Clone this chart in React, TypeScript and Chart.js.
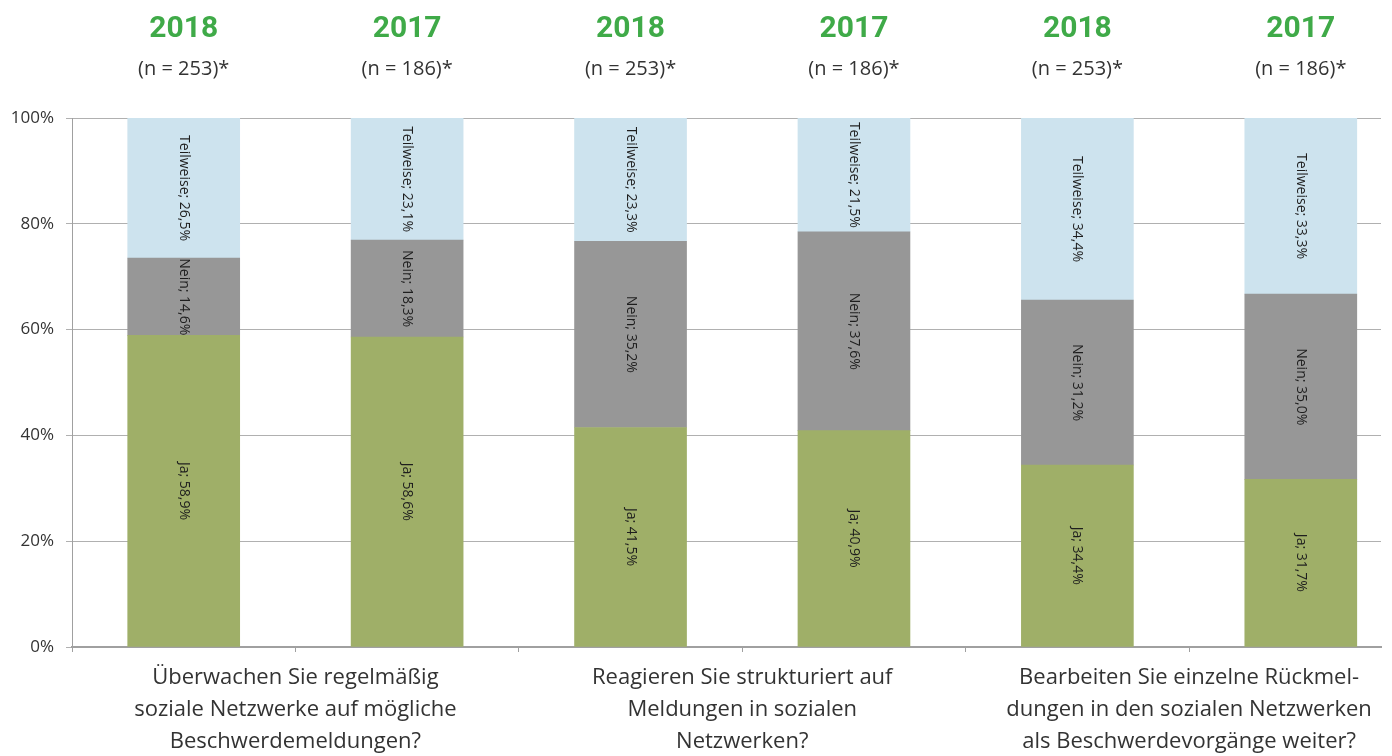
import React, { useEffect, useRef } from 'react';
import { Chart, registerables } from 'chart.js';

Chart.register(...registerables);

const years = ['2018', '2017', '2018', '2017', '2018', '2017'];
const sampleSizes = ['(n = 253)*', '(n = 186)*', '(n = 253)*', '(n = 186)*', '(n = 253)*', '(n = 186)*'];
const questions = [
  ['Überwachen Sie regelmäßig', 'soziale Netzwerke auf mögliche', 'Beschwerdemeldungen?'],
  ['Reagieren Sie strukturiert auf', 'Meldungen in sozialen', 'Netzwerken?'],
  ['Bearbeiten Sie einzelne Rückmel-', 'dungen in den sozialen Netzwerken', 'als Beschwerdevorgänge weiter?'],
];
const jaValues = [58.9, 58.6, 41.5, 40.9, 34.4, 31.7];
const neinValues = [14.6, 18.3, 35.2, 37.6, 31.2, 35.0];
const teilweiseValues = [26.5, 23.1, 23.3, 21.5, 34.4, 33.3];
const seriesNames = ['Ja', 'Nein', 'Teilweise'];
const seriesColors = ['#9faf68', '#979797', '#cde3ee'];
const categoryBoundaries = [-0.5, 0.5, 1.5, 2.5, 3.5, 4.5];
const yTickValues = [0, 20, 40, 60, 80, 100];

const TEXT = '#333333';
const GREEN = '#3faa48';
const MAIN_FONT = '"Open Sans", "DejaVu Sans", sans-serif';
const YEAR_FONT = 'Roboto, "DejaVu Sans", sans-serif';
const LABEL_FONT = '"Open Sans", "DejaVu Sans", sans-serif';

const fmt = (v: number) => v.toFixed(1).replace('.', ',') + '%';

const textPlugin = {
  id: 'textPlugin',
  afterDatasetsDraw(chart: any) {
    const ctx = chart.ctx;
    ctx.save();
    ctx.fillStyle = '#1e1e1e';
    ctx.font = `14px ${LABEL_FONT}`;
    ctx.textAlign = 'center';
    ctx.textBaseline = 'middle';
    chart.data.datasets.forEach((ds: any, di: number) => {
      const meta = chart.getDatasetMeta(di);
      meta.data.forEach((bar: any, i: number) => {
        const { x, y, base } = bar.getProps(['x', 'y', 'base'], true);
        const cy = (y + base) / 2;
        ctx.save();
        ctx.translate(x, cy);
        ctx.rotate(Math.PI / 2);
        ctx.fillText(`${ds.label}; ${fmt(ds.data[i].y)}`, 0, 0);
        ctx.restore();
      });
    });
    ctx.restore();
  },
  afterDraw(chart: any) {
    const ctx = chart.ctx;
    const xs = chart.scales.x;
    ctx.save();
    ctx.textAlign = 'center';
    ctx.textBaseline = 'middle';
    years.forEach((yr, i) => {
      const px = xs.getPixelForValue(i);
      ctx.fillStyle = GREEN;
      ctx.font = `bold 30px ${YEAR_FONT}`;
      ctx.fillText(yr, px, 29);
      ctx.fillStyle = TEXT;
      ctx.font = `20px ${MAIN_FONT}`;
      ctx.fillText(sampleSizes[i], px, 69);
    });
    ctx.font = `22px ${MAIN_FONT}`;
    ctx.fillStyle = TEXT;
    questions.forEach((lines, g) => {
      const px = xs.getPixelForValue(g * 2 + 0.5);
      lines.forEach((line, li) => {
        ctx.fillText(line, px, 678 + li * 32);
      });
    });
    ctx.restore();
  },
};

export default function App() {
  const ref = useRef<HTMLCanvasElement>(null);
  useEffect(() => {
    if (!ref.current) return;
    const all = [jaValues, neinValues, teilweiseValues];
    const chart = new Chart(ref.current, {
      type: 'bar',
      data: {
        datasets: all.map((vals, si) => ({
          label: seriesNames[si],
          data: vals.map((v, i) => ({ x: i, y: v })),
          backgroundColor: seriesColors[si],
          borderWidth: 0,
          barThickness: 112,
        })),
      },
      options: {
        responsive: false,
        animation: false,
        layout: { padding: { top: 118, right: 11, left: 0, bottom: 0 } },
        plugins: { legend: { display: false }, tooltip: { enabled: false } },
        scales: {
          x: {
            type: 'linear',
            stacked: true,
            offset: false,
            min: -0.5,
            max: 5.359,
            afterBuildTicks: (scale: any) => {
              scale.ticks = categoryBoundaries.map((v) => ({ value: v }));
            },
            afterFit: (scale: any) => {
              scale.height = 109;
            },
            ticks: { callback: () => ' ', font: { size: 1 }, autoSkip: false, maxRotation: 0 },
            grid: { drawOnChartArea: false, offset: false, color: '#a0a0a0', tickLength: 5 },
            border: { color: '#a0a0a0', width: 2 },
          },
          y: {
            stacked: true,
            min: 0,
            max: 100,
            afterBuildTicks: (scale: any) => {
              scale.ticks = yTickValues.map((v) => ({ value: v }));
            },
            afterFit: (scale: any) => {
              scale.width = 72;
            },
            ticks: {
              callback: (v: any) => `${v}%`,
              color: TEXT,
              font: { family: MAIN_FONT, size: 17 },
              padding: 12,
            },
            grid: { color: '#b0b0b0', lineWidth: 1, tickLength: 6 },
            border: { color: '#a0a0a0', width: 1 },
          },
        },
      },
      plugins: [textPlugin],
    });
    return () => chart.destroy();
  }, []);
  return (
    <div style={{ position: 'fixed', left: 0, top: 0, width: 1392, height: 756, background: '#fff' }}>
      <canvas ref={ref} width={1392} height={756} />
    </div>
  );
}
